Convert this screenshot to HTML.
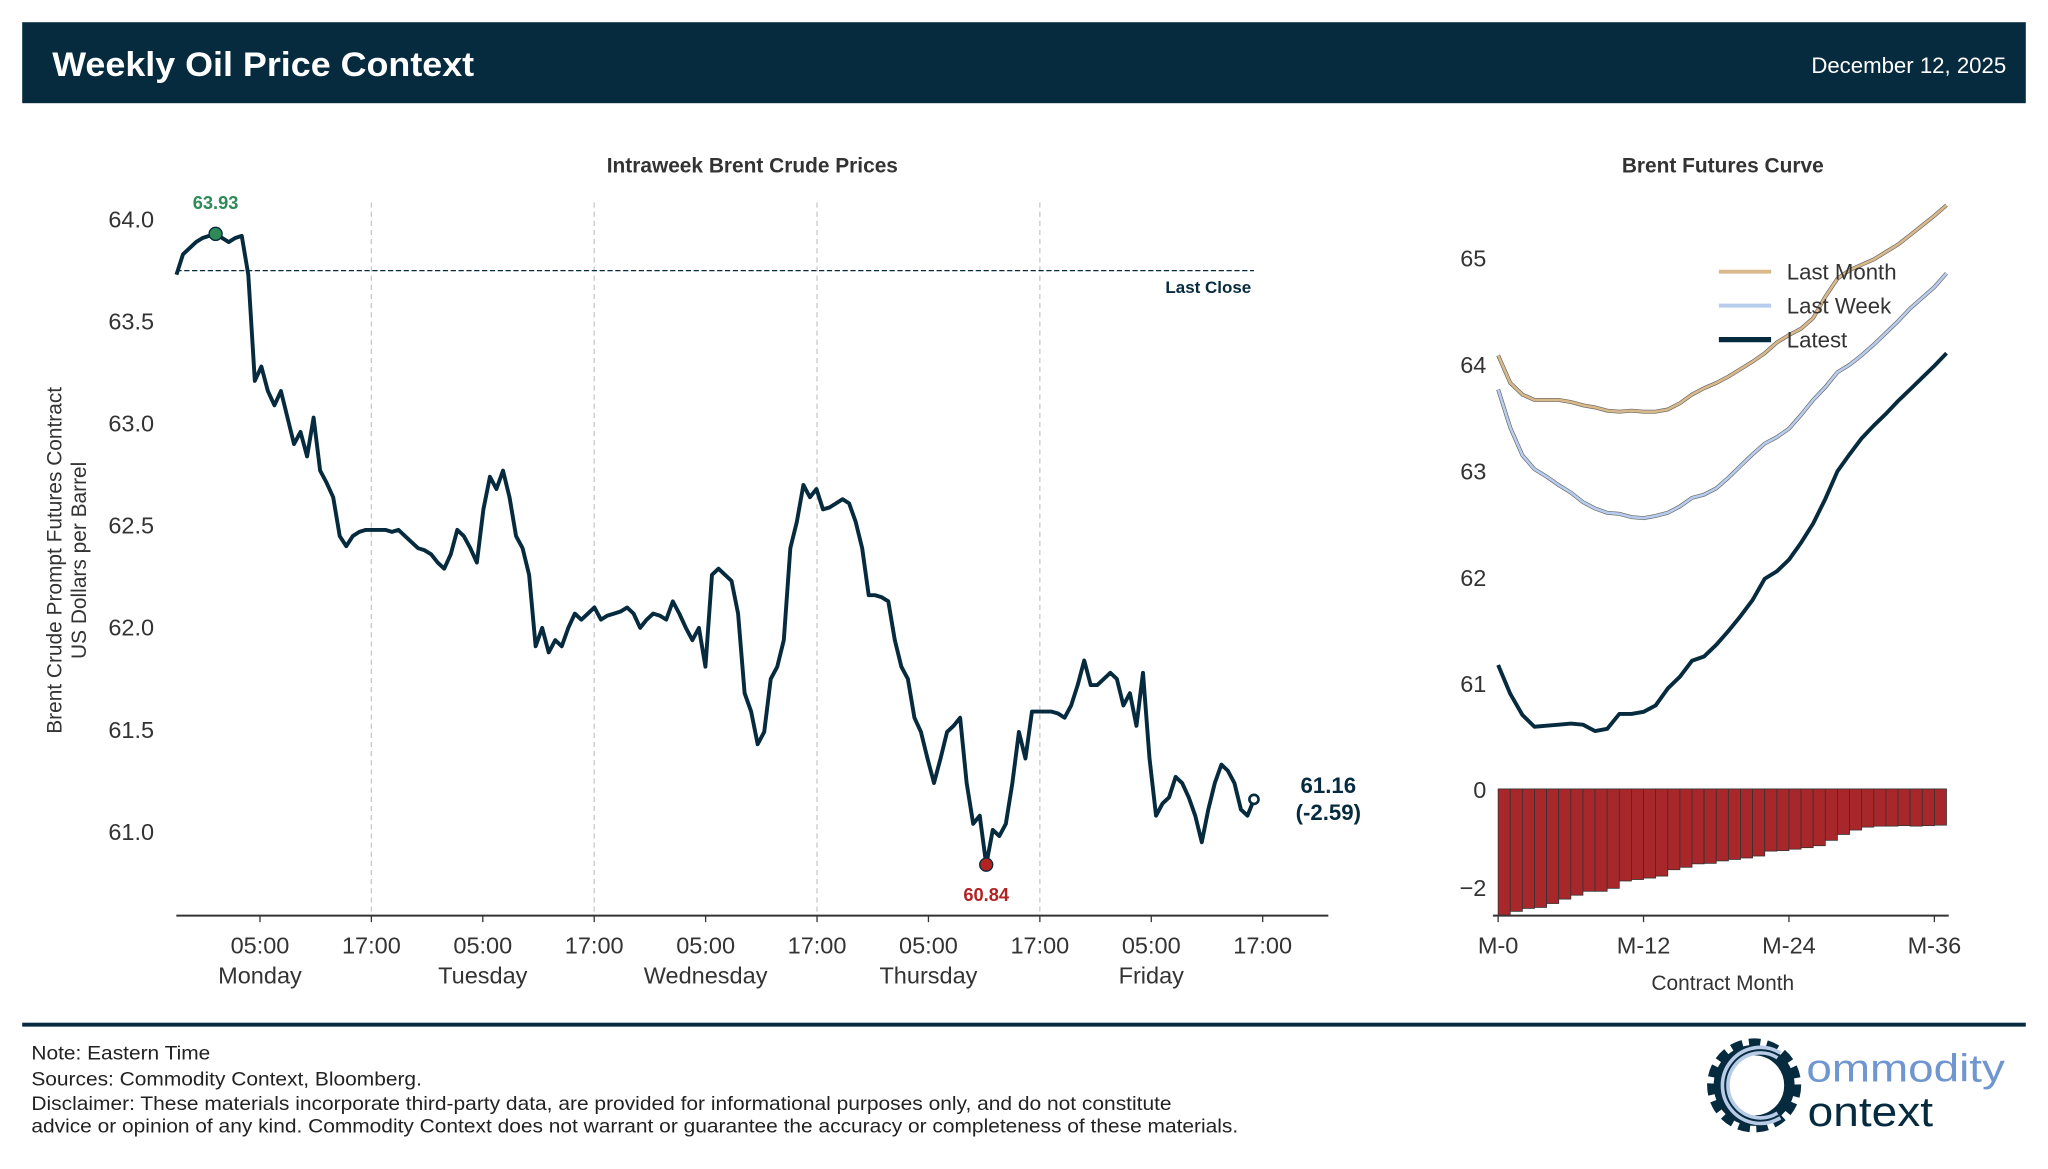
<!DOCTYPE html>
<html><head><meta charset="utf-8"><style>
html,body{margin:0;padding:0;background:#fff}
svg{display:block;font-family:"Liberation Sans",Arial,sans-serif}
</style></head><body>
<svg id="c" width="2048" height="1169" viewBox="0 0 1568 895" xmlns="http://www.w3.org/2000/svg">
<rect x="0" y="0" width="1568" height="895" fill="#fff"/>
<g>
<rect x="17" y="17" width="1534" height="62" fill="#062a3e"/>
<text x="40" y="58" fill="#fff" font-size="26" font-weight="bold" textLength="323" lengthAdjust="spacingAndGlyphs">Weekly Oil Price Context</text>
<text x="1536" y="56" fill="#fff" font-size="17" text-anchor="end">December 12, 2025</text>
</g>
<text x="576" y="132" font-size="16" font-weight="bold" fill="#333" text-anchor="middle">Intraweek Brent Crude Prices</text>
<text x="1319" y="132" font-size="16" font-weight="bold" fill="#333" text-anchor="middle">Brent Futures Curve</text>
<g font-size="16" fill="#333" text-anchor="middle">
<text transform="translate(47,429) rotate(-90)">Brent Crude Prompt Futures Contract</text>
<text transform="translate(66,429) rotate(-90)">US Dollars per Barrel</text>
</g>
<g id="main"></g>
<g id="curve"></g>
<g>
<rect x="17" y="783" width="1534" height="3" fill="#062a3e"/>
<g font-size="15" fill="#222">
<text x="24" y="811" textLength="137" lengthAdjust="spacingAndGlyphs">Note: Eastern Time</text>
<text x="24" y="831" textLength="299" lengthAdjust="spacingAndGlyphs">Sources: Commodity Context, Bloomberg.</text>
<text x="24" y="850" textLength="873" lengthAdjust="spacingAndGlyphs">Disclaimer: These materials incorporate third-party data, are provided for informational purposes only, and do not constitute</text>
<text x="24" y="867" textLength="924" lengthAdjust="spacingAndGlyphs">advice or opinion of any kind. Commodity Context does not warrant or guarantee the accuracy or completeness of these materials.</text>
</g>
<g>
<circle cx="1343" cy="831" r="30" fill="none" stroke="#062a3e" stroke-width="12" stroke-dasharray="8 4.5"/>
<circle cx="1343" cy="831" r="27" fill="none" stroke="#062a3e" stroke-width="8"/>
<path d="M1362 808 A27 27 0 1 0 1362 854" fill="none" stroke="#b8cce8" stroke-width="7"/>
<path d="M1362 808 A27 27 0 1 0 1362 854" fill="none" stroke="#062a3e" stroke-width="1.5"/>
<text x="1383" y="828" font-size="30" fill="#6f96cf" textLength="152" lengthAdjust="spacingAndGlyphs">ommodity</text>
<text x="1384" y="862" font-size="32" fill="#062a3e" textLength="96" lengthAdjust="spacingAndGlyphs">ontext</text>
</g>
</g>
</svg>
<script>
// ---- Intraweek data (regular interval, hours from Monday 00:00) ----
const startHour = -4.0;
const stepHours = 0.7034;
const prices = [63.73,63.83,63.86,63.89,63.91,63.92,63.93,63.91,63.89,63.91,63.92,63.73,63.21,63.28,63.16,63.09,63.16,63.03,62.90,62.96,62.84,63.03,62.77,62.71,62.64,62.45,62.40,62.45,62.47,62.48,62.48,62.48,62.48,62.47,62.48,62.45,62.42,62.39,62.38,62.36,62.32,62.29,62.36,62.48,62.45,62.39,62.32,62.58,62.74,62.68,62.77,62.64,62.45,62.39,62.26,61.91,62.00,61.88,61.94,61.91,62.00,62.07,62.04,62.07,62.10,62.04,62.06,62.07,62.08,62.10,62.07,62.00,62.04,62.07,62.06,62.04,62.13,62.07,62.00,61.94,62.00,61.81,62.26,62.29,62.26,62.23,62.07,61.68,61.59,61.43,61.49,61.75,61.81,61.94,62.39,62.52,62.70,62.64,62.68,62.58,62.59,62.61,62.63,62.61,62.52,62.39,62.16,62.16,62.15,62.13,61.94,61.81,61.75,61.56,61.49,61.36,61.24,61.36,61.49,61.52,61.56,61.24,61.04,61.08,60.84,61.01,60.98,61.04,61.24,61.49,61.36,61.59,61.59,61.59,61.59,61.58,61.56,61.62,61.72,61.84,61.72,61.72,61.75,61.78,61.75,61.62,61.68,61.52,61.78,61.36,61.08,61.14,61.17,61.27,61.24,61.17,61.08,60.95,61.11,61.24,61.33,61.30,61.24,61.11,61.08,61.16];
const lastClose = 63.75;
const yTicks = [61.0,61.5,62.0,62.5,63.0,63.5,64.0];
const xTickHours = [5,17,29,41,53,65,77,89,101,113];
const xTickLabels = ["05:00","17:00","05:00","17:00","05:00","17:00","05:00","17:00","05:00","17:00"];
const dayLabels = ["Monday","","Tuesday","","Wednesday","","Thursday","","Friday",""];

// ---- Futures curve data ----
const months = Array.from({length:38},(_,i)=>i);
const latest = [61.17,60.90,60.70,60.59,60.60,60.61,60.62,60.61,60.55,60.57,60.71,60.71,60.73,60.79,60.95,61.06,61.21,61.25,61.36,61.49,61.63,61.78,61.98,62.05,62.16,62.32,62.50,62.73,62.99,63.15,63.30,63.42,63.53,63.65,63.76,63.87,63.98,64.10];
const lastWeek = [63.76,63.40,63.14,63.01,62.94,62.86,62.79,62.70,62.64,62.60,62.59,62.56,62.55,62.57,62.60,62.66,62.74,62.77,62.83,62.93,63.04,63.15,63.25,63.31,63.39,63.52,63.66,63.78,63.92,63.99,64.08,64.18,64.29,64.40,64.52,64.62,64.72,64.85];
const lastMonth = [64.08,63.82,63.71,63.66,63.66,63.66,63.64,63.61,63.59,63.56,63.55,63.56,63.55,63.55,63.57,63.63,63.71,63.77,63.82,63.88,63.95,64.02,64.10,64.20,64.27,64.33,64.43,64.63,64.80,64.88,64.93,64.98,65.05,65.12,65.21,65.30,65.39,65.49];
const curveTicks = [61,62,63,64,65];
const barTicks = [0,-2];
const monthTicks = [0,12,24,36];

const NS="http://www.w3.org/2000/svg";
function mk(parent,tag,attrs,txt){const e=document.createElementNS(NS,tag);for(const k in attrs)e.setAttribute(k,attrs[k]);if(txt!==undefined)e.textContent=txt;parent.appendChild(e);return e;}

const X=h=>163.5+h*85.3/12;
const Y=v=>637-(v-61)*156.3;
const g=document.getElementById('main');
xTickHours.forEach((h,i)=>{
  if(i%2===1 && i<9){const l=mk(g,'line',{x1:X(h),x2:X(h),y1:155,y2:701,stroke:'#c8c8c8','stroke-width':1,'stroke-dasharray':'4 3'});
  
  }
  const t=mk(g,'line',{x1:X(h),x2:X(h),y1:701,y2:706,stroke:'#333'});
  
  
  const tl=mk(g,'text',{x:X(h),y:730,'font-size':18,fill:'#333','text-anchor':'middle'},xTickLabels[i]);
  
  
  if(dayLabels[i]){const dl=mk(g,'text',{x:X(h),y:753,'font-size':18,fill:'#333','text-anchor':'middle'},dayLabels[i]);
  
  }
});
yTicks.forEach(v=>{
  const t=mk(g,'text',{x:118,y:Y(v)+6,'font-size':18,fill:'#333','text-anchor':'end'},v.toFixed(1));
  
  
});
const ax=mk(g,'line',{x1:135,x2:1017,y1:701,y2:701,stroke:'#333','stroke-width':1.5});


const lastX=X(startHour+(prices.length-1)*stepHours);
const lc=mk(g,'line',{x1:X(startHour),x2:lastX,y1:Y(lastClose),y2:Y(lastClose),stroke:'#062a3e','stroke-width':1,'stroke-dasharray':'4 2'});


const lct=mk(g,'text',{x:958,y:Y(lastClose)+17,'font-size':13,'font-weight':'bold',fill:'#062a3e','text-anchor':'end'},'Last Close');


const pts=prices.map((p,i)=>X(startHour+i*stepHours).toFixed(1)+','+Y(p).toFixed(1)).join(' ');
const pl=mk(g,'polyline',{points:pts,fill:'none',stroke:'#062a3e','stroke-width':3,'stroke-linejoin':'round'});


let mx=0,mn=0;prices.forEach((p,i)=>{if(p>prices[mx])mx=i;if(p<prices[mn])mn=i;});
const mxX=X(startHour+mx*stepHours),mnX=X(startHour+mn*stepHours);
const c1=mk(g,'circle',{cx:mxX,cy:Y(prices[mx]),r:5,fill:'#2e8b57',stroke:'#062a3e','stroke-width':1});


const t1=mk(g,'text',{x:mxX,y:Y(prices[mx])-19,'font-size':14,'font-weight':'bold',fill:'#2e8b57','text-anchor':'middle'},prices[mx].toFixed(2));


const c2=mk(g,'circle',{cx:mnX,cy:Y(prices[mn]),r:5,fill:'#b22222',stroke:'#062a3e','stroke-width':1});


const t2=mk(g,'text',{x:mnX,y:Y(prices[mn])+28,'font-size':14,'font-weight':'bold',fill:'#b22222','text-anchor':'middle'},prices[mn].toFixed(2));


const last=prices[prices.length-1];
const c3=mk(g,'circle',{cx:lastX,cy:Y(last),r:3.5,fill:'#fff',stroke:'#062a3e','stroke-width':2});


const t3=mk(g,'text',{x:1017,y:607,'font-size':17,'font-weight':'bold',fill:'#062a3e','text-anchor':'middle'},last.toFixed(2));


const t4=mk(g,'text',{x:1017,y:628,'font-size':17,'font-weight':'bold',fill:'#062a3e','text-anchor':'middle'},'('+(last-lastClose).toFixed(2)+')');



const cg=document.getElementById('curve');
const MX=m=>1147+m*9.278;
const CY=v=>197-(v-65)*81.5;
const BY=v=>604-v*37.5;
curveTicks.forEach(v=>{const t=mk(cg,'text',{x:1138,y:CY(v)+7,'font-size':18,fill:'#333','text-anchor':'end'},String(v));

});
barTicks.forEach(v=>{const t=mk(cg,'text',{x:1138,y:BY(v)+7,'font-size':18,fill:'#333','text-anchor':'end'},v<0?'\u2212'+Math.abs(v):String(v));

});
function line(arr,color,w,name,outline){
  const p=arr.map((v,i)=>MX(months[i]).toFixed(1)+','+CY(v).toFixed(1)).join(' ');
  if(outline){const o=mk(cg,'polyline',{points:p,fill:'none',stroke:'#666','stroke-width':w+1});
  
  }
  const e=mk(cg,'polyline',{points:p,fill:'none',stroke:color,'stroke-width':w,'stroke-linejoin':'round'});
  
  
}
line(lastMonth,'#d9b98a',2,'last-month-curve',true);
line(lastWeek,'#b8cdee',2,'last-week-curve',true);
line(latest,'#062a3e',3,'latest-curve',false);
for(let i=0;i<37;i++){
  const d=latest[i]-lastWeek[i];
  const b=mk(cg,'rect',{x:MX(months[i]),y:BY(0),width:9.278,height:BY(d)-BY(0),fill:'#a8272b',stroke:'#333','stroke-width':0.6});
  
  
}
const cax=mk(cg,'line',{x1:1143,x2:1492,y1:701,y2:701,stroke:'#333','stroke-width':1.5});


monthTicks.forEach(m=>{
  const t=mk(cg,'line',{x1:MX(m),x2:MX(m),y1:701,y2:706,stroke:'#333'});
  
  
  const l=mk(cg,'text',{x:MX(m),y:730,'font-size':18,fill:'#333','text-anchor':'middle'},'M-'+m);
  
  
});
const xt=mk(cg,'text',{x:1319,y:758,'font-size':16,fill:'#333','text-anchor':'middle'},'Contract Month');


[['Last Month','#d9b98a',2],['Last Week','#b8cdee',2],['Latest','#062a3e',3]].forEach((L,i)=>{
  const y=208+i*26;
  const ln=mk(cg,'line',{x1:1316,x2:1356,y1:y,y2:y,stroke:L[1],'stroke-width':L[2]+1});
  
  
  const t=mk(cg,'text',{x:1368,y:y+6,'font-size':17,fill:'#333'},L[0]);
  
  
});
</script>
</body></html>
